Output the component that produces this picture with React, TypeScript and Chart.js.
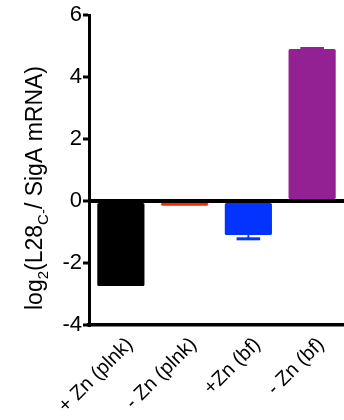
import React, { useEffect, useRef } from "react";
import { Chart, registerables } from "chart.js";

Chart.register(...registerables);

const categories = ["+ Zn (plnk)", "- Zn (plnk)", "+Zn (bf)", "- Zn (bf)"];
const values = [-2.74, -0.15, -1.1, 4.9];
const errors = [0, 0, 0.12, 0.02];
const barColors = ["#000000", "#FF2600", "#0433FF", "#942193"];
const yTickValues = [-4, -2, 0, 2, 4, 6];
const titleParts = [
  { text: "log", sub: false },
  { text: "2", sub: true },
  { text: "(L28", sub: false },
  { text: "C-", sub: true },
  { text: "/ SigA mRNA)", sub: false },
];

const FONT = "'Liberation Sans', Arial, Helvetica, sans-serif";

const errorBarPlugin = {
  id: "errorBars",
  afterDatasetsDraw(chart: any) {
    const ctx = chart.ctx;
    const meta = chart.getDatasetMeta(0);
    const y = chart.scales.y;
    meta.data.forEach((bar: any, i: number) => {
      const v = values[i];
      const e = errors[i];
      if (!e) return;
      const end = v >= 0 ? v + e : v - e;
      const yEnd = y.getPixelForValue(end);
      const yBar = y.getPixelForValue(v);
      const half = bar.width * 0.25;
      ctx.save();
      ctx.strokeStyle = barColors[i];
      ctx.lineWidth = 2;
      ctx.beginPath();
      ctx.moveTo(bar.x, yBar);
      ctx.lineTo(bar.x, yEnd);
      ctx.stroke();
      ctx.lineWidth = 3;
      ctx.beginPath();
      ctx.moveTo(bar.x - half, yEnd);
      ctx.lineTo(bar.x + half, yEnd);
      ctx.stroke();
      ctx.restore();
    });
  },
};

const titlePlugin = {
  id: "yTitle",
  afterDraw(chart: any) {
    const ctx = chart.ctx;
    const main = 23;
    const small = 15;
    const y = chart.scales.y;
    const cy = (y.top + y.bottom) / 2 + 18;
    ctx.save();
    ctx.fillStyle = "#000";
    ctx.textBaseline = "alphabetic";
    ctx.textAlign = "left";
    let total = 0;
    const widths = titleParts.map((p) => {
      ctx.font = `${p.sub ? small : main}px ${FONT}`;
      const w = ctx.measureText(p.text).width;
      total += w;
      return w;
    });
    ctx.translate(42, cy);
    ctx.rotate(-Math.PI / 2);
    let x = -total / 2;
    titleParts.forEach((p, i) => {
      ctx.font = `${p.sub ? small : main}px ${FONT}`;
      ctx.fillText(p.text, x, p.sub ? 6 : 0);
      x += widths[i];
    });
    ctx.restore();
  },
};

export default function App() {
  const ref = useRef<HTMLCanvasElement | null>(null);
  useEffect(() => {
    if (!ref.current) return;
    const chart = new Chart(ref.current, {
      type: "bar",
      data: {
        labels: categories,
        datasets: [
          {
            data: values,
            backgroundColor: barColors,
            borderWidth: 0,
            borderRadius: 1.5,
            borderSkipped: false,
            categoryPercentage: 1,
            barPercentage: 0.74,
          },
        ],
      },
      options: {
        animation: false,
        responsive: false,
        maintainAspectRatio: false,
        layout: { padding: { left: 0, top: 15, right: 0, bottom: 0 } },
        plugins: {
          legend: { display: false },
          tooltip: { enabled: false },
          title: { display: false },
        },
        scales: {
          x: {
            grid: { display: false },
            border: { display: true, color: "#000", width: 3.5 },
            ticks: {
              color: "#000",
              font: { size: 20, family: FONT },
              maxRotation: 45,
              minRotation: 45,
              autoSkip: false,
              padding: 0,
              labelOffset: 9,
            },
            afterFit: (s: any) => {
              s.height = 95;
            },
          },
          y: {
            min: -4,
            max: 6,
            z: 1,
            afterBuildTicks: (s: any) => {
              s.ticks = yTickValues.map((v) => ({ value: v }));
            },
            afterFit: (s: any) => {
              s.width = 89;
            },
            grid: {
              color: (c: any) => (c.tick && c.tick.value === 0 ? "#000" : "rgba(0,0,0,0)"),
              tickColor: "#000",
              lineWidth: 4,
              tickWidth: 3,
              tickLength: 6,
              drawTicks: true,
            },
            border: { display: true, color: "#000", width: 3 },
            ticks: {
              color: "#000",
              font: { size: 22, family: FONT },
              padding: 1,
              callback: (v: any) => String(v),
            },
          },
        },
      },
      plugins: [errorBarPlugin, titlePlugin],
    });
    return () => chart.destroy();
  }, []);
  return (
    <div style={{ position: "fixed", left: 0, top: 0, width: 344, height: 420, background: "#fff" }}>
      <canvas ref={ref} width={344} height={420} style={{ width: 344, height: 420 }} />
    </div>
  );
}
